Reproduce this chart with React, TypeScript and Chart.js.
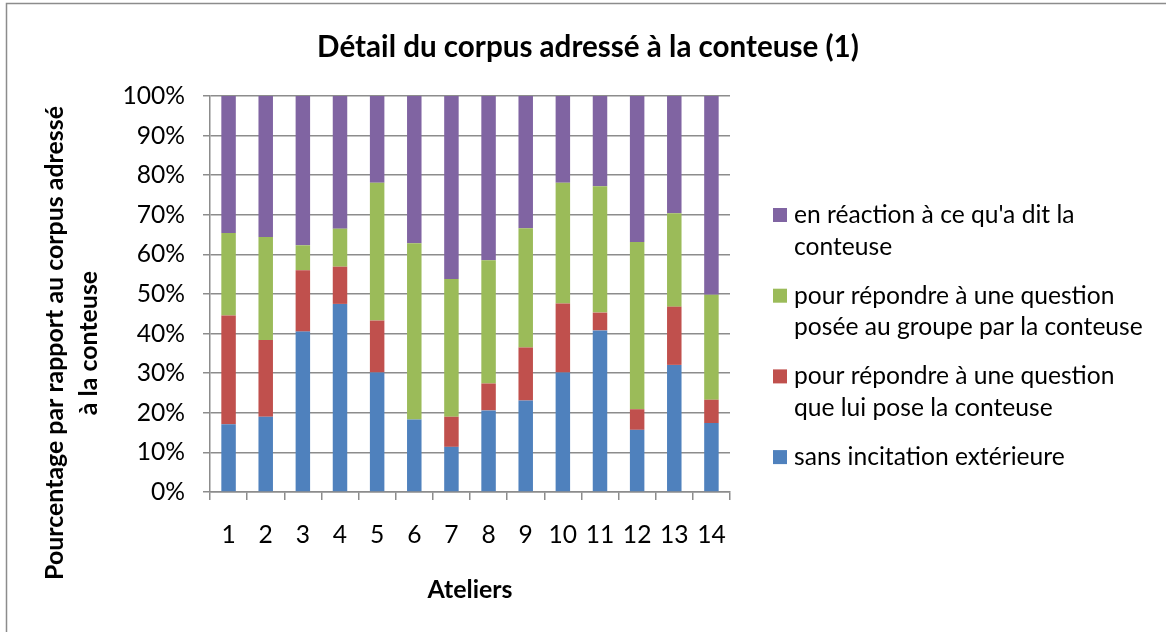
import React, { useEffect, useRef } from 'react';
import { Chart, registerables } from 'chart.js';

Chart.register(...registerables);

const chartTitle = 'Détail du corpus adressé à la conteuse (1)';
const xAxisTitle = 'Ateliers';
const yAxisTitleLines = ['Pourcentage par rapport au corpus adressé', 'à la conteuse'];

const ateliers = ['1', '2', '3', '4', '5', '6', '7', '8', '9', '10', '11', '12', '13', '14'];

const yTicks = [0, 10, 20, 30, 40, 50, 60, 70, 80, 90, 100];

// values in % of the corpus, bottom segment first
const sansIncitation = [17.1, 19.0, 40.5, 47.5, 30.2, 18.3, 11.4, 20.6, 23.1, 30.2, 40.8, 15.7, 32.1, 17.4];
const questionIndividuelle = [27.5, 19.4, 15.5, 9.4, 13.1, 0.0, 7.6, 6.8, 13.4, 17.4, 4.5, 5.2, 14.7, 5.9];
const questionGroupe = [20.8, 26.0, 6.3, 9.6, 34.8, 44.5, 34.8, 31.1, 30.1, 30.5, 31.9, 42.2, 23.6, 26.5];
const enReaction = [34.6, 35.6, 37.7, 33.5, 21.9, 37.2, 46.2, 41.5, 33.4, 21.9, 22.8, 36.9, 29.6, 50.2];

const seriesLabels = [
  'sans incitation extérieure',
  'pour répondre à une question\nque lui pose la conteuse',
  'pour répondre à une question\nposée au groupe par la conteuse',
  "en réaction à ce qu'a dit la\nconteuse",
];
const seriesColors = ['#4F81BD', '#C0504D', '#9BBB59', '#8064A2'];

export default function App() {
  const ref = useRef<HTMLCanvasElement | null>(null);

  useEffect(() => {
    const prevMargin = document.body.style.margin;
    document.body.style.margin = '0';
    const canvas = ref.current;
    if (!canvas) return;

    const family = 'Lato, "Open Sans", sans-serif';
    const measure = document.createElement('canvas').getContext('2d')!;
    const fit = (text: string, weight: string, target: number) => {
      measure.font = `${weight} 100px ${family}`;
      return (100 * target) / measure.measureText(text).width;
    };
    const bodySize = fit('sans incitation extérieure', 'normal', 271);
    const titleSize = fit(chartTitle, 'bold', 542);
    const axisTitleSize = fit(yAxisTitleLines[0], 'bold', 474);

    const gridColor = '#8c8c8c';

    const decor = {
      id: 'excelDecor',
      afterDraw(chart: any) {
        const ctx: CanvasRenderingContext2D = chart.ctx;
        ctx.save();
        // outer frame
        ctx.strokeStyle = gridColor;
        ctx.lineWidth = 1.5;
        ctx.strokeRect(6.5, 3.5, 1200, 700);

        // title
        ctx.fillStyle = '#000';
        ctx.textAlign = 'center';
        ctx.textBaseline = 'middle';
        ctx.font = `bold ${titleSize}px ${family}`;
        ctx.fillText(chartTitle, 588, 47);

        // y axis title (rotated)
        ctx.save();
        ctx.translate(0, 343);
        ctx.rotate(-Math.PI / 2);
        ctx.font = `bold ${axisTitleSize}px ${family}`;
        const yTitleX = [55, 89];
        yAxisTitleLines.forEach((line, i) => {
          ctx.fillText(line, 0, yTitleX[i]);
        });
        ctx.restore();

        // legend (reverse order: top series first)
        ctx.font = `${bodySize}px ${family}`;
        ctx.textAlign = 'left';
        const lineH = 31.7;
        let y = 215;
        for (let i = seriesLabels.length - 1; i >= 0; i--) {
          const lines = seriesLabels[i].split('\n');
          ctx.fillStyle = seriesColors[i];
          ctx.fillRect(773, y - 7, 14, 14);
          ctx.fillStyle = '#000';
          lines.forEach((l, k) => ctx.fillText(l, 794, y + k * lineH));
          y += lines.length * lineH + 17.3;
        }
        ctx.restore();
      },
    };

    const datasets = [sansIncitation, questionIndividuelle, questionGroupe, enReaction].map((d, i) => ({
      label: seriesLabels[i].replace('\n', ' '),
      data: d,
      backgroundColor: seriesColors[i],
      borderWidth: 0,
      barPercentage: 0.39,
      categoryPercentage: 1,
    }));

    const chart = new Chart(canvas, {
      type: 'bar',
      data: { labels: ateliers, datasets },
      options: {
        animation: false,
        responsive: false,
        devicePixelRatio: 1,
        events: [],
        layout: { padding: { left: 0, right: 436, top: 96, bottom: 0 } },
        plugins: {
          legend: { display: false },
          title: { display: false },
          tooltip: { enabled: false },
        },
        scales: {
          x: {
            stacked: true,
            grid: { display: true, drawOnChartArea: false, drawTicks: true, tickLength: 8, color: gridColor, lineWidth: 1.5, offset: true },
            border: { display: true, color: gridColor, width: 1.5 },
            ticks: { color: '#000', font: { family, size: bodySize }, padding: 35 - (bodySize * 1.2) / 2, maxRotation: 0, autoSkip: false },
            title: {
              display: true,
              text: xAxisTitle,
              color: '#000',
              font: { family, size: axisTitleSize, weight: 'bold' },
              padding: { top: 0, bottom: 42 - (axisTitleSize * 1.2) / 2 },
            },
            afterFit: (s: any) => {
              s.height = 140;
            },
          },
          y: {
            stacked: true,
            min: 0,
            max: 100,
            afterBuildTicks: (s: any) => {
              s.ticks = yTicks.map((v) => ({ value: v }));
            },
            ticks: { color: '#000', font: { family, size: bodySize }, padding: 18, callback: (v: any) => `${v}%` },
            grid: { color: gridColor, lineWidth: 1.5, tickLength: 7 },
            border: { display: true, color: gridColor, width: 1.5 },
            afterFit: (s: any) => {
              s.width = 210;
            },
          },
        },
      } as any,
      plugins: [decor],
    });

    return () => {
      chart.destroy();
      document.body.style.margin = prevMargin;
    };
  }, []);

  return <canvas ref={ref} width={1166} height={632} style={{ display: 'block' }} />;
}
